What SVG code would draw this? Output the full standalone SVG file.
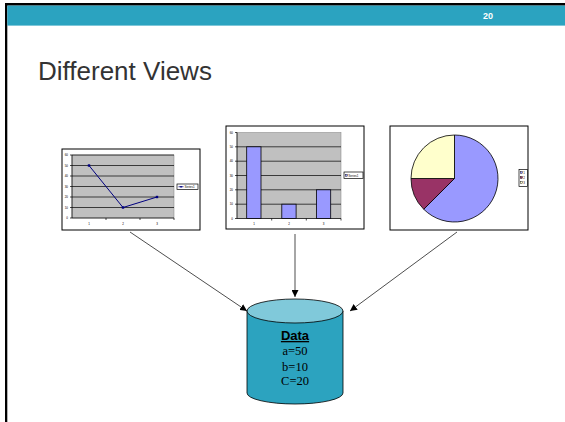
<svg xmlns="http://www.w3.org/2000/svg" width="565" height="422" viewBox="0 0 565 422">
<defs>
<style>
.frame{fill:#fff;stroke:#000;stroke-width:1}
.plot{fill:#c0c0c0;stroke:#808080;stroke-width:0.5}
.grid{stroke:#000;stroke-width:0.7}
.axis{stroke:#000;stroke-width:0.7;fill:none}
.tick{font-family:"Liberation Sans",Arial,sans-serif;font-size:3px;fill:#000}
.leg{fill:#fff;stroke:#000;stroke-width:0.7}
.bar{fill:#9999ff;stroke:#000;stroke-width:0.8}
.conn{stroke:#000;stroke-width:0.7;fill:none;marker-end:url(#ah)}
</style>
<marker id="ah" viewBox="0 0 10 10" refX="10" refY="5" markerWidth="7" markerHeight="7" markerUnits="userSpaceOnUse" orient="auto">
<path d="M0,0 L10,5 L0,10 z" fill="#000"/>
</marker>
</defs>
<rect x="0" y="0" width="565" height="422" fill="#fff"/>
<rect x="5" y="3" width="560" height="2.6" fill="#000"/>
<rect x="5" y="3" width="2.3" height="419" fill="#000"/>
<rect x="7.3" y="5.6" width="557.7" height="20" fill="#2ba3c0"/>
<text x="488" y="19" text-anchor="middle" font-family="Liberation Sans,Arial,sans-serif" font-size="9" font-weight="bold" fill="#fff">20</text>
<text x="38" y="80" font-family="Liberation Sans,Arial,sans-serif" font-size="26" fill="#333">Different Views</text>

<g id="line-chart">
<rect class="frame" x="62" y="149" width="138" height="81"/>
<rect class="plot" x="72" y="155" width="102" height="63"/>
<g class="grid">
<line x1="72" y1="155" x2="174" y2="155"/>
<line x1="72" y1="165.5" x2="174" y2="165.5"/>
<line x1="72" y1="176" x2="174" y2="176"/>
<line x1="72" y1="186.5" x2="174" y2="186.5"/>
<line x1="72" y1="197" x2="174" y2="197"/>
<line x1="72" y1="207.5" x2="174" y2="207.5"/>
</g>
<path class="axis" d="M72,155 V218 H174 M106,218 v2 M140,218 v2 M174,218 v2 M70,155 h2 M70,165.5 h2 M70,176 h2 M70,186.5 h2 M70,197 h2 M70,207.5 h2 M70,218 h2"/>
<g class="tick" text-anchor="end">
<text x="68" y="156">60</text><text x="68" y="166.5">50</text><text x="68" y="177">40</text><text x="68" y="187.5">30</text><text x="68" y="198">20</text><text x="68" y="208.5">10</text><text x="68" y="219">0</text>
</g>
<g class="tick" text-anchor="middle">
<text x="89" y="225">1</text><text x="123" y="225">2</text><text x="157" y="225">3</text>
</g>
<polyline points="89,165.5 123,207.5 157,197" fill="none" stroke="#000080" stroke-width="1"/>
<g fill="#000080"><rect x="87.8" y="164.3" width="2.4" height="2.4"/><rect x="121.8" y="206.3" width="2.4" height="2.4"/><rect x="155.8" y="195.8" width="2.4" height="2.4"/></g>
<rect class="leg" x="177" y="184" width="21" height="5.5"/>
<line x1="178.5" y1="186.75" x2="183.5" y2="186.75" stroke="#000080" stroke-width="0.8"/>
<rect x="180.3" y="186" width="1.5" height="1.5" fill="#000080"/>
<text class="tick" x="184.5" y="188">Series1</text>
</g>

<g id="bar-chart">
<rect class="frame" x="226" y="126" width="138" height="103"/>
<rect class="plot" x="237" y="132.5" width="104" height="86"/>
<g class="grid">
<line x1="237" y1="146.8" x2="341" y2="146.8"/>
<line x1="237" y1="161.2" x2="341" y2="161.2"/>
<line x1="237" y1="175.5" x2="341" y2="175.5"/>
<line x1="237" y1="189.8" x2="341" y2="189.8"/>
<line x1="237" y1="204.2" x2="341" y2="204.2"/>
</g>
<path class="axis" d="M237,132.5 V218.5 H341 M271.7,218.5 v2 M306.3,218.5 v2 M341,218.5 v2 M235,132.5 h2 M235,146.8 h2 M235,161.2 h2 M235,175.5 h2 M235,189.8 h2 M235,204.2 h2 M235,218.5 h2"/>
<rect class="bar" x="246.7" y="146.8" width="14.3" height="71.7"/>
<rect class="bar" x="281.8" y="204.2" width="14.3" height="14.3"/>
<rect class="bar" x="316.4" y="189.8" width="14.3" height="28.7"/>
<g class="tick" text-anchor="end">
<text x="233" y="133.5">60</text><text x="233" y="147.8">50</text><text x="233" y="162.2">40</text><text x="233" y="176.5">30</text><text x="233" y="190.8">20</text><text x="233" y="205.2">10</text><text x="233" y="219.5">0</text>
</g>
<g class="tick" text-anchor="middle">
<text x="254" y="225">1</text><text x="289" y="225">2</text><text x="323.6" y="225">3</text>
</g>
<rect class="leg" x="344" y="172" width="19" height="6.5"/>
<rect x="345.3" y="174.3" width="2" height="2" fill="#9999ff" stroke="#000" stroke-width="0.4"/>
<text class="tick" x="348.3" y="176.6">Series1</text>
</g>

<g id="pie-chart">
<rect class="frame" x="390" y="126" width="138" height="104"/>
<path d="M454.5,178.5 L454.5,135 A43.5,43.5 0 1 1 423.74,209.26 Z" fill="#9999ff" stroke="#000" stroke-width="0.8"/>
<path d="M454.5,178.5 L423.74,209.26 A43.5,43.5 0 0 1 411,178.5 Z" fill="#993366" stroke="#000" stroke-width="0.8"/>
<path d="M454.5,178.5 L411,178.5 A43.5,43.5 0 0 1 454.5,135 Z" fill="#ffffcc" stroke="#000" stroke-width="0.8"/>
<rect class="leg" x="519" y="169.5" width="8.5" height="17"/>
<rect x="520.3" y="171.5" width="2" height="2" fill="#9999ff" stroke="#000" stroke-width="0.4"/>
<rect x="520.3" y="176.5" width="2" height="2" fill="#993366" stroke="#000" stroke-width="0.4"/>
<rect x="520.3" y="181.5" width="2" height="2" fill="#ffffcc" stroke="#000" stroke-width="0.4"/>
<g class="tick"><text x="523.3" y="173.6">1</text><text x="523.3" y="178.6">2</text><text x="523.3" y="183.6">3</text></g>
</g>

<g id="data">
<path d="M247,311 L247,393 A48,11 0 0 0 343,393 L343,311 Z" fill="#2ca3bf" stroke="#000" stroke-width="0.8"/>
<ellipse cx="295" cy="311" rx="48" ry="12" fill="#80c9da" stroke="#000" stroke-width="0.8"/>
<text x="295" y="340" text-anchor="middle" font-family="Liberation Sans,Arial,sans-serif" font-size="13" font-weight="bold" text-decoration="underline" fill="#000">Data</text>
<g font-family="Liberation Serif,'Times New Roman',serif" font-size="12.5" fill="#000" text-anchor="middle">
<text x="295" y="355">a=50</text>
<text x="295" y="371">b=10</text>
<text x="295" y="385">C=20</text>
</g>
</g>

<g id="connectors">
<line class="conn" x1="130" y1="232" x2="247" y2="311"/>
<line class="conn" x1="295" y1="234" x2="295" y2="297"/>
<line class="conn" x1="457" y1="232" x2="350" y2="311"/>
</g>
</svg>
